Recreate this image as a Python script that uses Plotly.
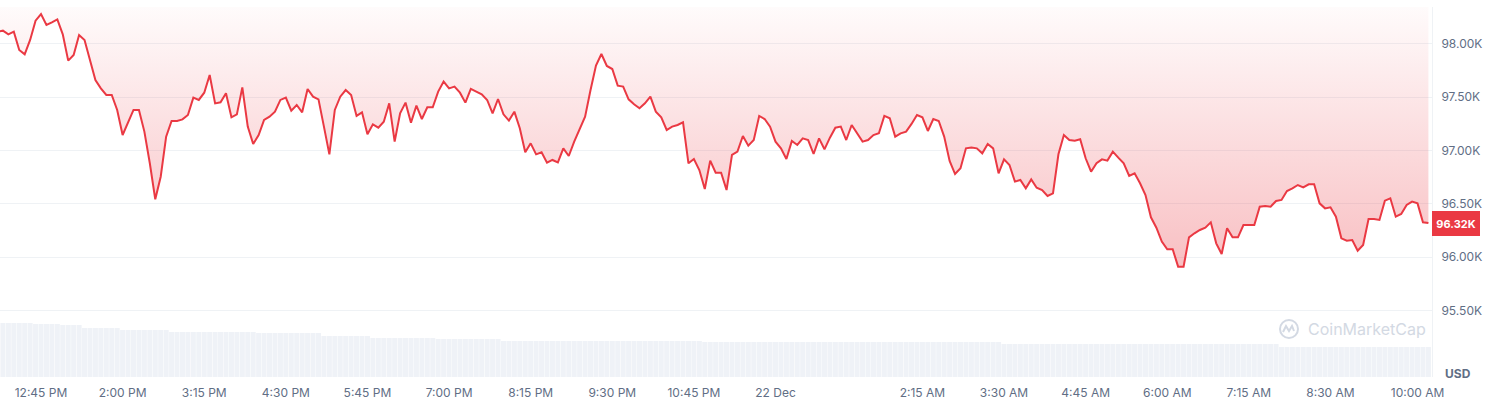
import plotly.graph_objects as go
import pandas as pd

# ---------------- data ----------------
start_time = "2024-12-21 12:05"   # 5-minute candles
price = [
    98116, 98125, 98091, 98116, 97944, 97903, 98038, 98219, 98281, 98178, 98203, 98231,
    98091, 97844, 97897, 98084, 98038, 97850, 97662, 97584, 97522, 97522, 97381, 97146,
    97271, 97381, 97381, 97178, 96881, 96543, 96755, 97131, 97278, 97278, 97293, 97334,
    97497, 97475, 97543, 97709, 97443, 97453, 97537, 97312, 97340,
    97593, 97225, 97062, 97146, 97287, 97318, 97365, 97475, 97497, 97375, 97428, 97359,
    97578, 97506, 97481, 97225, 96965, 97381, 97506, 97568, 97522, 97325, 97359, 97153,
    97246, 97215, 97271, 97443, 97084, 97350, 97450, 97262, 97422, 97296, 97406, 97406,
    97553, 97647, 97584, 97600, 97543, 97450, 97578, 97553,
    97528, 97475, 97350, 97484, 97340, 97281, 97365, 97209, 96984, 97068, 96965, 96984,
    96887, 96912, 96890, 97021, 96949, 97084, 97209, 97318, 97568, 97797, 97906, 97794,
    97765, 97609, 97600, 97481, 97434, 97397, 97443, 97506, 97365, 97312, 97193, 97225,
    97240, 97265, 96881, 96921, 96818, 96640, 96906, 96793,
    96793, 96630, 96959, 96990, 97137, 97046, 97099, 97325, 97296, 97225, 97084, 97021,
    96921, 97090, 97053, 97115, 97099, 96968, 97115, 97012, 97121, 97215, 97225, 97099,
    97240, 97162, 97084, 97099, 97146, 97162, 97325, 97303, 97131, 97162, 97178, 97250,
    97334, 97312, 97184, 97296, 97278, 97131, 96903, 96780,
    96834, 97021, 97028, 97021, 96974, 97062, 97021, 96787, 96918, 96865, 96709, 96724,
    96646, 96730, 96652, 96630, 96574, 96599, 96965, 97146, 97099, 97093, 97106, 96928,
    96802, 96881, 96918, 96906, 96990, 96934, 96881, 96762, 96787, 96693, 96583, 96374,
    96277, 96146, 96074, 96074, 95911, 95911, 96186, 96224, 96255,
    96277, 96327, 96130, 96030, 96271, 96186, 96186, 96302, 96302, 96302, 96474, 96480,
    96474, 96527, 96537, 96621, 96646, 96677, 96655, 96684, 96684, 96505, 96458, 96468,
    96380, 96177, 96155, 96161, 96061, 96114, 96358, 96358, 96349, 96530, 96552, 96380,
    96405, 96490, 96521, 96505, 96327, 96320,
]
volume = [
    54, 54, 54, 54, 54, 54, 54, 53, 53, 53, 53, 53, 52, 52, 52, 52, 49, 49, 49, 49, 49, 49, 49,
    47, 47, 47, 47, 47, 47, 47, 47, 47, 45, 45, 45, 45, 45, 45, 45, 45, 45, 45, 45, 45, 45, 45,
    45, 45, 44, 44, 44, 44, 44, 44, 44, 44, 44, 44, 44, 44, 41, 41, 41, 41, 41, 41, 41, 41, 41,
    39, 39, 39, 39, 39, 39, 39, 39, 39, 39, 39, 39, 38, 38, 38, 38, 38, 38, 38, 38, 38, 38, 38, 38,
    36, 36, 36, 36, 36, 36, 36, 36, 36, 36, 36, 36, 36, 36, 36, 36, 36, 36, 36, 36, 36, 36, 36,
    36, 36, 36, 36, 36, 36, 36, 36, 36, 36, 36, 36, 36, 36,
    35, 35, 35, 35, 35, 35, 35, 35, 35, 35, 35, 35, 35, 35, 35, 35, 35, 35, 35, 35, 35, 35, 35,
    35, 35, 35, 35, 35, 35, 35, 35, 35, 35, 35, 35, 35, 35, 35, 35, 35, 35, 35, 35, 35, 35, 35,
    35, 35, 35, 35, 35, 35, 35, 35, 35,
    33, 33, 33, 33, 33, 33, 33, 33, 33, 33, 33, 33, 33, 33, 33, 33, 33, 33, 33, 33, 33, 33, 33,
    33, 33, 33, 33, 33, 33, 33, 33, 33, 33, 33, 33, 33, 33, 33, 33, 33, 33, 33, 33, 33, 33, 33,
    33, 33, 33, 33, 33,
    30, 30, 30, 30, 30, 30, 30, 30, 30, 30, 30, 30, 30, 30, 30, 30, 30, 30, 30, 30, 30, 30, 30,
    30, 30, 30, 30, 30,
]
fill_top = 98347
y_ticks = [95500, 96000, 96500, 97000, 97500, 98000]
y_tick_text = ["95.50K", "96.00K", "96.50K", "97.00K", "97.50K", "98.00K"]
x_ticks = ["2024-12-21 12:45", "2024-12-21 14:00", "2024-12-21 15:15", "2024-12-21 16:30",
           "2024-12-21 17:45", "2024-12-21 19:00", "2024-12-21 20:15", "2024-12-21 21:30",
           "2024-12-21 22:45", "2024-12-22 00:00", "2024-12-22 02:15", "2024-12-22 03:30",
           "2024-12-22 04:45", "2024-12-22 06:00", "2024-12-22 07:15", "2024-12-22 08:30",
           "2024-12-22 09:50"]
x_tick_text = ["12:45 PM", "2:00 PM", "3:15 PM", "4:30 PM", "5:45 PM", "7:00 PM", "8:15 PM",
               "9:30 PM", "10:45 PM", "22 Dec", "2:15 AM", "3:30 AM", "4:45 AM", "6:00 AM",
               "7:15 AM", "8:30 AM", "10:00 AM"]
last_label = "96.32K"

# ---------------- figure ----------------
times = pd.date_range(start_time, periods=len(price), freq="5min")
RED = "#ea3943"
FONT = "Inter"

fig = go.Figure()
fig.add_trace(go.Bar(
    x=times, y=volume, yaxis="y2", marker=dict(color="#eff2f7", line=dict(width=0)),
    hoverinfo="skip", showlegend=False))
fig.add_trace(go.Scatter(
    x=times, y=[fill_top] * len(times), mode="lines", line=dict(width=0, color="rgba(0,0,0,0)"),
    hoverinfo="skip", showlegend=False))
fig.add_trace(go.Scatter(
    x=times, y=price, mode="lines", line=dict(color=RED, width=2),
    fill="tonexty",
    fillgradient=dict(type="vertical",
                      colorscale=[[0, "rgba(234,57,67,0.32)"], [1, "rgba(234,57,67,0.02)"]]),
    showlegend=False))

W, H = 1492, 402
ML, MR, MT, MB = 0, 60, 7, 25
plot_w = W - ML - MR
plot_h = H - MT - MB

def px_x(px):
    return px / plot_w

def px_y(py):
    return (H - MB - py) / plot_h

fig.update_layout(
    width=W, height=H,
    margin=dict(l=ML, r=MR, t=MT, b=MB, pad=0),
    plot_bgcolor="white", paper_bgcolor="white",
    bargap=0.08,
    font=dict(family=FONT, size=12, color="#616e85"),
    xaxis=dict(
        type="date",
        range=["2024-12-21 12:07:19", "2024-12-22 10:03:18"],
        tickvals=x_ticks, ticktext=x_tick_text,
        showgrid=False, zeroline=False, showline=False, ticks="",
        tickfont=dict(size=12, color="#616e85"),
        ticklabelstandoff=7,
    ),
    yaxis=dict(
        side="right",
        range=[94876, fill_top],
        tickvals=y_ticks, ticktext=y_tick_text,
        showgrid=True, gridcolor="#eff2f5", gridwidth=1,
        zeroline=False, showline=True, linecolor="#eff2f5", linewidth=1, ticks="",
        tickfont=dict(size=12, color="#616e85"),
        ticklabelstandoff=6,
    ),
    yaxis2=dict(overlaying="y", range=[0, plot_h], visible=False, fixedrange=True),
    showlegend=False,
    hovermode=False,
)

# last price label
fig.add_annotation(
    x=1, xref="paper", xanchor="left", y=price[-1], yref="y", yanchor="middle",
    text="<b>%s</b>" % last_label, showarrow=False,
    bgcolor=RED, font=dict(color="white", size=11, family=FONT),
    width=42, height=19, borderpad=3, borderwidth=0,
)
# currency label
fig.add_annotation(
    x=px_x(1458), xref="paper", y=px_y(373), yref="paper", xanchor="center", yanchor="middle",
    text="<b>USD</b>", showarrow=False, font=dict(color="#616e85", size=12, family=FONT),
)
# watermark
WM = "#d3d9e3"
fig.add_annotation(
    x=px_x(1306), xref="paper", y=px_y(329), yref="paper", xanchor="left", yanchor="middle",
    text="CoinMarketCap", showarrow=False, font=dict(color=WM, size=16, family=FONT),
)
cx, cy, r = 1289, 329, 9
fig.add_shape(type="circle", xref="paper", yref="paper",
              x0=px_x(cx - r), x1=px_x(cx + r), y0=px_y(cy + r), y1=px_y(cy - r),
              line=dict(color=WM, width=2))
wave = [(cx - 6, cy + 3), (cx - 3, cy - 3), (cx, cy + 2), (cx + 3, cy - 3), (cx + 5, cy + 2)]
path = "M " + " L ".join("%f,%f" % (px_x(a), px_y(b)) for a, b in wave)
fig.add_shape(type="path", xref="paper", yref="paper", path=path,
              line=dict(color=WM, width=2))

fig.write_html("out.html",
               config={"displayModeBar": False},
               post_script="document.body.style.margin='0';document.body.style.overflow='hidden';")
